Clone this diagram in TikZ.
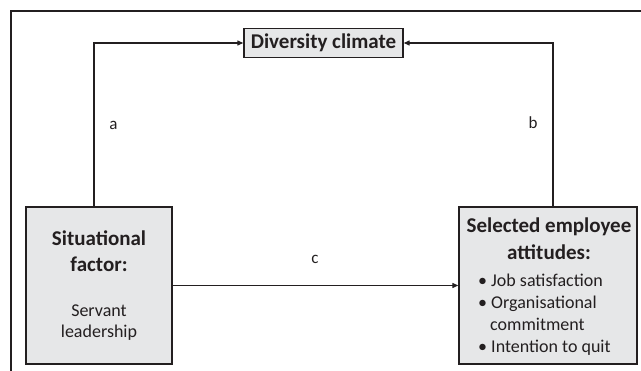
\documentclass[tikz,border=0pt]{standalone}
\usepackage{fontspec}
\setmainfont{Carlito}
\usetikzlibrary{arrows.meta}
\definecolor{ink}{HTML}{231F20}
\definecolor{boxfill}{HTML}{E6E7E8}
\tikzset{
  box/.style={draw=ink, line width=1.4pt, fill=boxfill, inner sep=0pt, text=ink},
  conn/.style={draw=ink, line width=1.25pt},
  arr/.style={conn, -{Triangle[length=6pt,width=5pt]}},
  head/.style={text=ink, inner sep=0pt, anchor=base, font=\bfseries\fontsize{21}{25}\selectfont},
  body/.style={text=ink, inner sep=0pt, anchor=base, font=\fontsize{18}{22}\selectfont},
  item/.style={body, anchor=base west},
  lbl/.style={text=ink, inner sep=0pt, anchor=base, font=\fontsize{17}{20}\selectfont},
}
\begin{document}
\begin{tikzpicture}[x=1pt,y=-1pt]
\useasboundingbox (0,0) rectangle (641,371);
% outer frame
\draw[conn] (641,11) -- (11,11) -- (11,371);
% boxes
\node[box, minimum width=159, minimum height=29, font=\bfseries\fontsize{21}{25}\selectfont] (dc) at (323.5,43) {Diversity climate};
\node[box, minimum width=146, minimum height=157] (sf) at (99,285.5) {};
\node[box, minimum width=178, minimum height=157] (sea) at (548,285.5) {};
% left box text
\node[head] (sf1) at (99,245.5) {Situational};
\node[head] (sf2) at (99,271.5) {factor:};
\node[body] (sf3) at (99,316.5) {Servant};
\node[body] (sf4) at (99,338) {leadership};
% right box text
\node[head] (se1) at (549,233) {Selected employee};
\node[head] (se2) at (549,260) {attitudes:};
\node[item] (se3) at (478,287) {• Job satisfaction};
\node[item] (se4) at (478,309) {• Organisational};
\node[item] (se5) at (490,331) {commitment};
\node[item] (se6) at (478,352.5) {• Intention to quit};
% connectors
\coordinate (la) at (94,207);
\coordinate (ra) at (553,207);
\draw[arr] (la) |- (dc.west);
\draw[arr] (ra) |- (dc.east);
\draw[arr] (sf.east) -- (sea.west);
% labels
\node[lbl] (a) at (113.5,130) {a};
\node[lbl] (b) at (533,129) {b};
\node[lbl] (c) at (315,264) {c};
\end{tikzpicture}
\end{document}
